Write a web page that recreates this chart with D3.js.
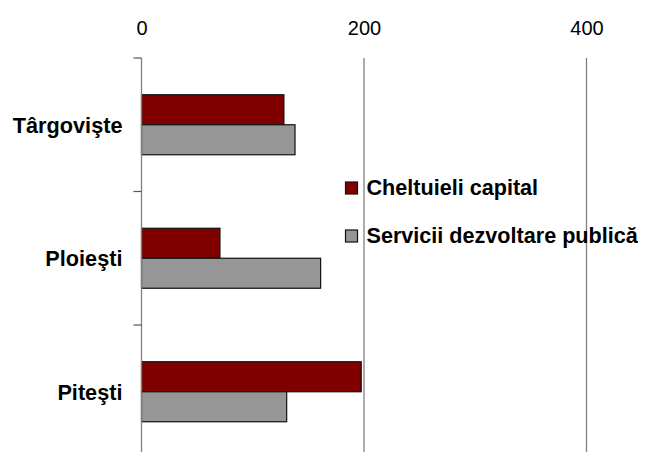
<!DOCTYPE html>
<html>
<head>
<meta charset="utf-8">
<script src="https://cdn.jsdelivr.net/npm/d3@7"></script>
<style>
  body { margin: 0; background: #fff; }
  svg { display: block; font-family: "Liberation Sans", Arial, sans-serif; }
</style>
</head>
<body>
<div id="chart"></div>
<script>
// data
var categories = ['Târgovişte', 'Ploieşti', 'Piteşti'];
var seriesNames = ['Cheltuieli capital', 'Servicii dezvoltare publică'];
var capital = [128, 70.5, 197.5];
var servicii = [138, 161, 130.5];
var tickValues = [0, 200, 400];
var colors = ['#800000', '#969696'];

var width = 645, height = 452;
var plot = {top: 58, bottom: 458.5, left: 141.5, right: 586.5};

var svg = d3.select('#chart').append('svg')
    .attr('width', width)
    .attr('height', height);

var x = d3.scaleLinear()
    .domain([0, 400])
    .range([plot.left, plot.right]);

var y = d3.scaleBand()
    .domain(categories)
    .range([plot.top, plot.bottom])
    .padding(0);

var ySub = d3.scaleBand()
    .domain(seriesNames)
    .range([0, y.bandwidth()])
    .paddingInner(0)
    .paddingOuter(1.225);

var rows = categories.map(function(c, i) {
    return {cat: c, values: [capital[i], servicii[i]]};
});

// gridlines
svg.append('g')
  .selectAll('line')
  .data(tickValues.filter(function(d) { return d > 0; }))
  .enter().append('line')
    .attr('x1', function(d) { return x(d); })
    .attr('x2', function(d) { return x(d); })
    .attr('y1', plot.top)
    .attr('y2', height)
    .attr('stroke', '#808080')
    .attr('stroke-width', 1.3);

// top axis labels
var xAxis = svg.append('g')
    .attr('transform', 'translate(0,' + plot.top + ')')
    .call(d3.axisTop(x).tickValues(tickValues).tickSize(0).tickPadding(23));
xAxis.select('.domain').remove();
xAxis.selectAll('text')
    .attr('font-size', 20)
    .attr('font-family', '"Liberation Sans", Arial, sans-serif')
    .attr('fill', '#000');

// bars
var groups = svg.append('g')
  .selectAll('g')
  .data(rows)
  .enter().append('g')
    .attr('transform', function(d) { return 'translate(0,' + y(d.cat) + ')'; });

groups.selectAll('rect')
  .data(function(d) { return d.values.map(function(v, j) { return {name: seriesNames[j], value: v, j: j}; }); })
  .enter().append('rect')
    .attr('x', x(0))
    .attr('y', function(d) { return ySub(d.name); })
    .attr('width', function(d) { return x(d.value) - x(0); })
    .attr('height', ySub.bandwidth())
    .attr('fill', function(d) { return colors[d.j]; })
    .attr('stroke', '#111')
    .attr('stroke-width', 1.2);

// left axis line + ticks at band edges
svg.append('line')
    .attr('x1', x(0)).attr('x2', x(0))
    .attr('y1', plot.top).attr('y2', height)
    .attr('stroke', '#808080')
    .attr('stroke-width', 1.3);

var edges = categories.map(function(c) { return y(c); });
svg.append('g')
  .selectAll('line')
  .data(edges)
  .enter().append('line')
    .attr('x1', x(0) - 8).attr('x2', x(0))
    .attr('y1', function(d) { return d; })
    .attr('y2', function(d) { return d; })
    .attr('stroke', '#555')
    .attr('stroke-width', 1.2);

// category labels
svg.append('g')
  .selectAll('text')
  .data(categories)
  .enter().append('text')
    .attr('x', 122.5)
    .attr('y', function(d) { return y(d) + y.bandwidth() / 2; })
    .attr('dy', '0.36em')
    .attr('text-anchor', 'end')
    .attr('font-size', 21.7)
    .attr('font-weight', 'bold')
    .text(function(d) { return d; });

// legend
var legend = svg.append('g')
  .selectAll('g')
  .data(seriesNames)
  .enter().append('g')
    .attr('transform', function(d, i) { return 'translate(345.5,' + (182 + i * 48) + ')'; });

legend.append('rect')
    .attr('width', 12)
    .attr('height', 12)
    .attr('fill', function(d, i) { return colors[i]; })
    .attr('stroke', '#111')
    .attr('stroke-width', 1.2);

legend.append('text')
    .attr('x', 21)
    .attr('y', 13)
    .attr('font-size', 21.6)
    .attr('font-weight', 'bold')
    .text(function(d) { return d; });
</script>
</body>
</html>
